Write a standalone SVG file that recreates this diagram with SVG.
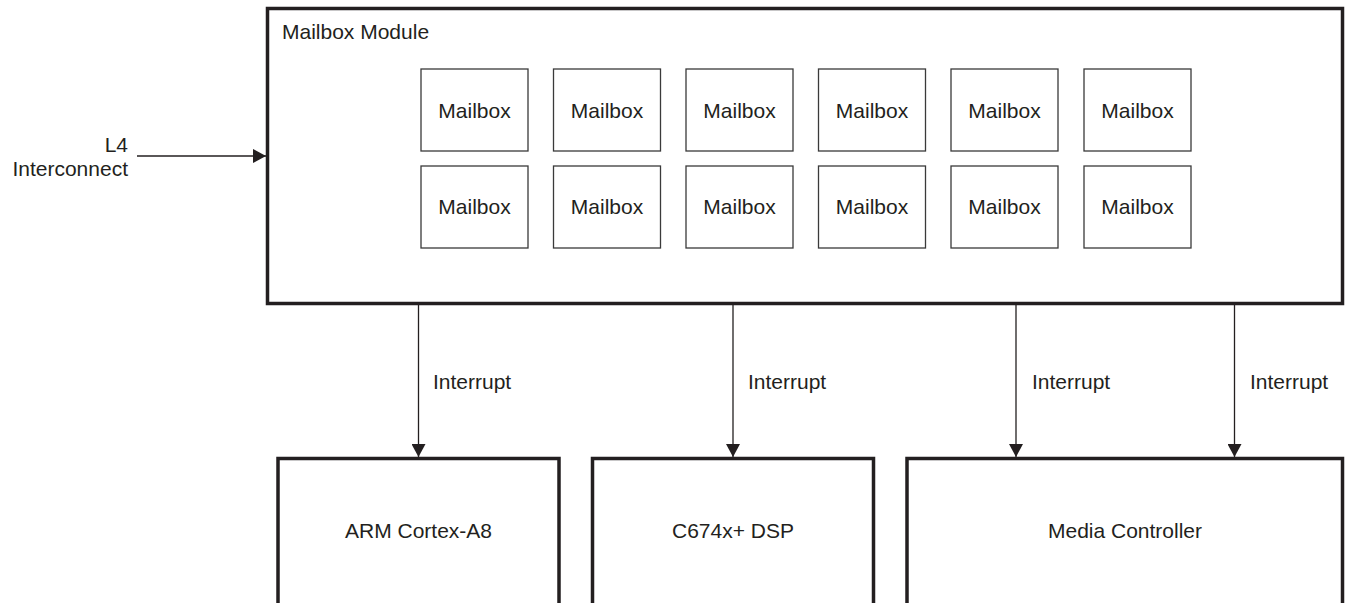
<svg xmlns="http://www.w3.org/2000/svg" width="1346" height="603" viewBox="0 0 1346 603">
<defs>
<style>
text{font-family:"Liberation Sans",Arial,sans-serif;font-size:21px;fill:#231f20}
.big{fill:#fff;stroke:#231f20;stroke-width:3.5}
.mb{fill:#fff;stroke:#3a3a3a;stroke-width:1.3}
.c{text-anchor:middle}
.ln{stroke:#231f20;stroke-width:1.3;fill:none}
</style>
<marker id="ah" markerUnits="userSpaceOnUse" markerWidth="14" markerHeight="14" refX="13" refY="7" orient="auto" viewBox="0 0 14 14">
<path d="M0,0 L13,7 L0,14 Z" fill="#231f20"/>
</marker>
</defs>
<rect width="1346" height="603" fill="#fff"/>
<g id="mailbox-module">
<rect class="big" x="267.5" y="8.5" width="1075" height="295"/>
<text x="282" y="39">Mailbox Module</text>
</g>
<g id="mailboxes">
<g id="mb1"><rect class="mb" x="421" y="69" width="107" height="82"/><text class="c" x="474.5" y="118">Mailbox</text></g>
<g id="mb2"><rect class="mb" x="553.5" y="69" width="107" height="82"/><text class="c" x="607" y="118">Mailbox</text></g>
<g id="mb3"><rect class="mb" x="686" y="69" width="107" height="82"/><text class="c" x="739.5" y="118">Mailbox</text></g>
<g id="mb4"><rect class="mb" x="818.5" y="69" width="107" height="82"/><text class="c" x="872" y="118">Mailbox</text></g>
<g id="mb5"><rect class="mb" x="951" y="69" width="107" height="82"/><text class="c" x="1004.5" y="118">Mailbox</text></g>
<g id="mb6"><rect class="mb" x="1084" y="69" width="107" height="82"/><text class="c" x="1137.5" y="118">Mailbox</text></g>
<g id="mb7"><rect class="mb" x="421" y="166" width="107" height="82"/><text class="c" x="474.5" y="214">Mailbox</text></g>
<g id="mb8"><rect class="mb" x="553.5" y="166" width="107" height="82"/><text class="c" x="607" y="214">Mailbox</text></g>
<g id="mb9"><rect class="mb" x="686" y="166" width="107" height="82"/><text class="c" x="739.5" y="214">Mailbox</text></g>
<g id="mb10"><rect class="mb" x="818.5" y="166" width="107" height="82"/><text class="c" x="872" y="214">Mailbox</text></g>
<g id="mb11"><rect class="mb" x="951" y="166" width="107" height="82"/><text class="c" x="1004.5" y="214">Mailbox</text></g>
<g id="mb12"><rect class="mb" x="1084" y="166" width="107" height="82"/><text class="c" x="1137.5" y="214">Mailbox</text></g>
</g>
<g id="l4">
<text x="128" y="152" text-anchor="end">L4</text>
<text x="128" y="176" text-anchor="end">Interconnect</text>
</g>
<g id="arm">
<rect class="big" x="278" y="458.5" width="281" height="160"/>
<text class="c" x="418.5" y="538">ARM Cortex-A8</text>
</g>
<g id="dsp">
<rect class="big" x="592.5" y="458.5" width="281" height="160"/>
<text class="c" x="733" y="538">C674x+ DSP</text>
</g>
<g id="media">
<rect class="big" x="907" y="458.5" width="435.5" height="160"/>
<text class="c" x="1125" y="538">Media Controller</text>
</g>
<g id="connectors">
<line class="ln" x1="137" y1="156" x2="266" y2="156" marker-end="url(#ah)"/>
<line class="ln" x1="418.5" y1="305" x2="418.5" y2="457" marker-end="url(#ah)"/>
<line class="ln" x1="733" y1="305" x2="733" y2="457" marker-end="url(#ah)"/>
<line class="ln" x1="1016" y1="305" x2="1016" y2="457" marker-end="url(#ah)"/>
<line class="ln" x1="1234.5" y1="305" x2="1234.5" y2="457" marker-end="url(#ah)"/>
<text x="433" y="389">Interrupt</text>
<text x="748" y="389">Interrupt</text>
<text x="1032" y="389">Interrupt</text>
<text x="1250" y="389">Interrupt</text>
</g>
</svg>
